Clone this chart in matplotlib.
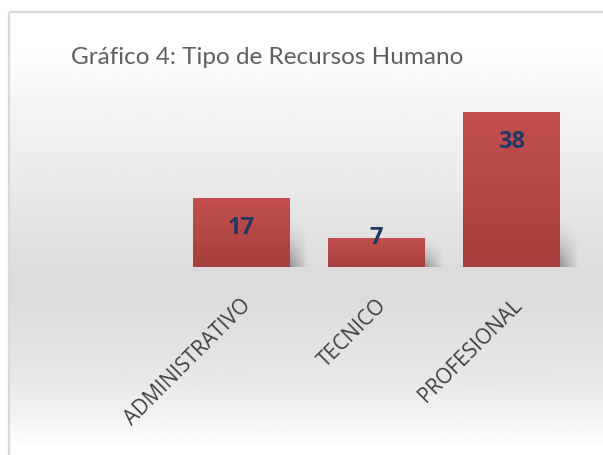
import numpy as np
import matplotlib.pyplot as plt
from matplotlib.patches import Rectangle
from matplotlib.colors import LinearSegmentedColormap

# datos del grafico
categorias = ["ADMINISTRATIVO", "TECNICO", "PROFESIONAL"]
valores = [17, 7, 38]
titulo = "Gráfico 4: Tipo de Recursos Humano"

W, H = 603, 455
fig = plt.figure(figsize=(W / 100, H / 100), dpi=100)
fig.patch.set_facecolor("white")

# fondo con degradado (area interior del grafico)
bg = fig.add_axes([0, 0, 1, 1], zorder=0)
bg.set_xlim(0, W)
bg.set_ylim(H, 0)
bg.axis("off")
stops = [(50, 1.0), (100, 0.96), (180, 0.92), (275, 0.86), (300, 0.86),
         (380, 0.91), (425, 0.965), (447, 1.0)]
ys = np.arange(50, 448)
grey = np.interp(ys, [s[0] for s in stops], [s[1] for s in stops])
img = np.repeat(grey[:, None], 2, axis=1)
bg.imshow(img, cmap="gray", vmin=0, vmax=1, extent=[10, W, 447, 50],
          aspect="auto", interpolation="bilinear")
bg.add_patch(Rectangle((8.5, 11.5), W + 10, H + 10, fill=False,
                       edgecolor="#d9d9d9", linewidth=1.6))

# titulo
fig.text(267 / W, 1 - 58 / H, titulo, ha="center", va="center",
         fontsize=17.5, color="#5f5f5f", family="Lato")

# barras
ax = fig.add_axes([173 / W, 1 - 267 / H, (579 - 173) / W, (267 - 103.8) / H], zorder=2)
ax.patch.set_alpha(0)
x = np.arange(len(categorias))
bars = ax.bar(x, valores, width=0.71, color="#b9474a", zorder=3)
ax.set_xlim(-0.5, len(categorias) - 0.5)
ax.set_ylim(0, 40)
for s in ax.spines.values():
    s.set_visible(False)
ax.set_yticks([])
ax.set_xticks(x)
ax.set_xticklabels(categorias, rotation=45, ha="right", rotation_mode="anchor",
                   fontsize=15, color="#404040", family="Open Sans")
ax.tick_params(axis="x", length=0, pad=20)

cmap = LinearSegmentedColormap.from_list("rojo", ["#c2504e", "#a63f3d"])
grad = np.linspace(0, 1, 100)[:, None]
sombra = np.zeros((40, 40, 4))
sx = np.linspace(1, 0, 40)[None, :]
sy = np.linspace(0, 1, 40)[:, None] ** 1.5
sombra[..., 3] = 0.35 * sx * sy
for b in bars:
    x0, y0 = b.get_x(), b.get_y()
    w, h = b.get_width(), b.get_height()
    im = ax.imshow(grad, cmap=cmap, extent=[x0, x0 + w, y0, y0 + h],
                   aspect="auto", zorder=4, origin="upper")
    im.set_clip_path(b)
    # sombra suave a la derecha
    ax.imshow(sombra, extent=[x0 + w, x0 + w * 1.2, y0, y0 + min(h, 12)],
              aspect="auto", zorder=2, origin="upper")

# etiquetas de valor
px_per_unit = (267 - 103.8) / 40
for xi, v in zip(x, valores):
    off = -30 if v * px_per_unit > 60 else 0
    ax.annotate(str(v), (xi, v), xytext=(0, off * 0.72), textcoords="offset points",
                ha="center", va="center", fontsize=17, fontweight="bold",
                color="#1f3864", family="Open Sans", zorder=5)

ax.set_xlim(-0.5, len(categorias) - 0.5)
ax.set_ylim(0, 40)
fig.savefig("out.png", dpi=100)
